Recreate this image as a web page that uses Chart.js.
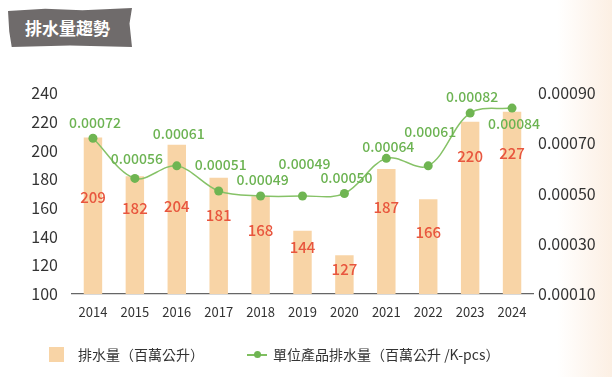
<!DOCTYPE html>
<html>
<head>
<meta charset="utf-8">
<script src="https://cdn.jsdelivr.net/npm/chart.js@4/dist/chart.umd.min.js"></script>
<style>
  body { margin: 0; width: 612px; height: 377px; overflow: hidden;
         background: linear-gradient(90deg, #fff 0%, #fff 91%, #fcefe3 100%);
         font-family: "Noto Sans CJK TC", "Noto Sans", sans-serif; }
  #wrap { position: relative; width: 612px; height: 377px; }
  #chart { position: absolute; left: 0; top: 0; }
  .title { position: absolute; left: 8px; top: 8px; width: 124px; height: 39px;
           background: #6f6b6b; color: #fff; font-weight: bold; font-size: 17px;
           line-height: 39px; padding-left: 17px; box-sizing: border-box;
           clip-path: polygon(0 8%, 30% 2%, 60% 6%, 100% 0, 98% 40%, 100% 100%, 50% 96%, 3% 100%, 1% 60%); }
  .legend { position: absolute; top: 344px; font-size: 14px; color: #333; white-space: nowrap; }
  .sq { display: inline-block; width: 15px; height: 15px; background: #f8d4a6; vertical-align: -2px; margin-right: 14px; }
  .ln { display: inline-block; position: relative; width: 20px; height: 15px; vertical-align: -2px; margin-right: 6px; }
  .ln:before { content: ""; position: absolute; left: 0; right: 0; top: 7px; height: 1.5px; background: #7fbf60; }
  .ln:after { content: ""; position: absolute; left: 7px; top: 4px; width: 7px; height: 7px; border-radius: 50%; background: #6fb552; }
</style>
</head>
<body>
<div id="wrap">
  <canvas id="chart" width="612" height="377"></canvas>
  <div class="title">排水量趨勢</div>
  <div class="legend" style="left:49px"><span class="sq"></span>排水量（百萬公升）</div>
  <div class="legend" style="left:247px"><span class="ln"></span>單位產品排水量（百萬公升 /K-pcs）</div>
</div>
<script>
const years = ['2014', '2015', '2016', '2017', '2018', '2019', '2020', '2021', '2022', '2023', '2024'];
const drainage = [209, 182, 204, 181, 168, 144, 127, 187, 166, 220, 227];
const perUnit = [0.00072, 0.00056, 0.00061, 0.00051, 0.00049, 0.00049, 0.00050, 0.00064, 0.00061, 0.00082, 0.00084];
const leftTicks = [100, 120, 140, 160, 180, 200, 220, 240];
const rightTicks = [0.0001, 0.0003, 0.0005, 0.0007, 0.0009];

// label placement (pixels from bar top / from point), tuned by eye to avoid overlaps
const barLabelDy = [60, 32, 62, 38, 34, 16, 14, 38, 33, 35, 42];
const lineLabelDy = [-16, -20, -32, -26, -16, -32, -16, -12, -34, -16, 16];

const labelPlugin = {
  id: 'labels',
  afterDatasetsDraw(chart) {
    const ctx = chart.ctx;
    ctx.save();
    ctx.textAlign = 'center';
    ctx.textBaseline = 'middle';
    ctx.fillStyle = '#e8563e';
    ctx.font = '500 15px "Noto Sans CJK TC"';
    chart.getDatasetMeta(1).data.forEach((bar, i) => {
      ctx.fillText(drainage[i], bar.x, bar.y + barLabelDy[i]);
    });
    ctx.fillStyle = '#6cb352';
    ctx.font = '500 14px "Noto Sans CJK TC"';
    chart.getDatasetMeta(0).data.forEach((pt, i) => {
      ctx.fillText(perUnit[i].toFixed(5), pt.x + 2, pt.y + lineLabelDy[i]);
    });
    ctx.restore();
  }
};

new Chart(document.getElementById('chart'), {
  data: {
    labels: years,
    datasets: [{
      type: 'line',
      data: perUnit,
      yAxisID: 'y1',
      borderColor: '#86c267',
      borderWidth: 1.5,
      pointBackgroundColor: '#6fb552',
      pointBorderWidth: 0,
      pointRadius: 4.5,
      tension: 0.35,
      order: 0
    }, {
      type: 'bar',
      data: drainage,
      yAxisID: 'y',
      backgroundColor: '#f8d4a6',
      barPercentage: 0.88,
      categoryPercentage: 0.5,
      order: 1
    }]
  },
  options: {
    responsive: false,
    animation: false,
    layout: { padding: { left: 0, right: 0, top: 93, bottom: 53 } },
    plugins: { legend: { display: false }, tooltip: { enabled: false } },
    scales: {
      x: {
        grid: { display: false },
        border: { color: '#666', width: 1.2 },
        ticks: { color: '#333', font: { size: 13, family: '"Noto Sans CJK TC"' }, padding: 2 },
        afterFit(s) { s.height = 30; }
      },
      y: {
        position: 'left',
        min: 100, max: 240,
        grid: { display: false, drawTicks: false },
        border: { display: false },
        afterBuildTicks(s) { s.ticks = leftTicks.map(v => ({ value: v })); },
        ticks: { color: '#333', font: { size: 16, family: '"Noto Sans CJK TC"' }, padding: 14 },
        afterFit(s) { s.width = 72; }
      },
      y1: {
        position: 'right',
        min: 0.0001, max: 0.0009,
        grid: { display: false, drawTicks: false },
        border: { display: false },
        afterBuildTicks(s) { s.ticks = rightTicks.map(v => ({ value: v })); },
        ticks: { color: '#333', font: { size: 16, family: '"Noto Sans CJK TC"' }, padding: 5,
                 callback: v => v.toFixed(5) },
        afterFit(s) { s.width = 79; }
      }
    }
  },
  plugins: [labelPlugin]
});
</script>
</body>
</html>
